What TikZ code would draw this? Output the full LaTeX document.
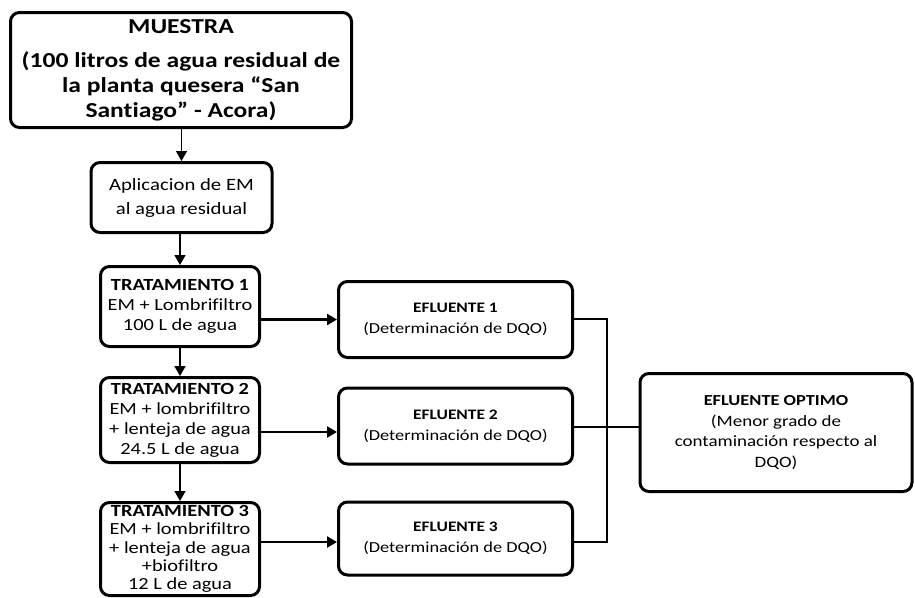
\documentclass[tikz,border=0pt]{standalone}
\usepackage{fontspec}
\setmainfont{Carlito}[Ligatures={NoCommon},FakeStretch=1.2]
\usetikzlibrary{arrows.meta}
\begin{document}
\begin{tikzpicture}[x=1pt,y=-1pt,
  box/.style={draw,line width=3pt,rounded corners=9pt,align=center,inner sep=0pt,fill=white},
  conn/.style={line width=2.4pt},
  arr/.style={line width=1.5pt,-{Triangle[length=10pt,width=11pt]}},
  harr/.style={line width=2.4pt,-{Triangle[length=10pt,width=11pt]}}]
\useasboundingbox (0,0) rectangle (915,597);
\node[box,minimum width=341pt,minimum height=115pt,font=\fontsize{21.3}{25}\selectfont\bfseries] (M) at (181,70)
  {MUESTRA\\[9pt](100 litros de agua residual de\\la planta quesera “San\\Santiago” - Acora)};
\node[box,minimum width=181pt,minimum height=70pt,font=\fontsize{17.3}{24}\selectfont] (A) at (181.5,197.5)
  {Aplicacion de EM\\al agua residual};
\node[box,minimum width=159pt,minimum height=80pt,font=\fontsize{17}{20}\selectfont] (T1) at (180,306.5)
  {\textbf{TRATAMIENTO 1}\\EM + Lombrifiltro\\100 L de agua};
\node[box,minimum width=159pt,minimum height=85pt,font=\fontsize{17}{20}\selectfont] (T2) at (180,420)
  {\textbf{TRATAMIENTO 2}\\EM + lombrifiltro\\+ lenteja de agua\\24.5 L de agua};
\node[box,minimum width=159pt,minimum height=93pt,font=\fontsize{17}{18.3}\selectfont] (T3) at (180,549)
  {\textbf{TRATAMIENTO 3}\\EM + lombrifiltro\\+ lenteja de agua\\+biofiltro\\12 L de agua};
\node[box,minimum width=234pt,minimum height=76pt,font=\fontsize{15.3}{21}\selectfont] (E1) at (455.5,319.5)
  {{\fontsize{14.5}{21}\selectfont\bfseries EFLUENTE 1}\\(Determinación de DQO)};
\node[box,minimum width=234pt,minimum height=76pt,font=\fontsize{15.3}{21}\selectfont] (E2) at (455.5,426)
  {{\fontsize{14.5}{21}\selectfont\bfseries EFLUENTE 2}\\(Determinación de DQO)};
\node[box,minimum width=234pt,minimum height=73pt,font=\fontsize{15.3}{21}\selectfont] (E3) at (455.5,538.5)
  {{\fontsize{14.5}{21}\selectfont\bfseries EFLUENTE 3}\\(Determinación de DQO)};
\node[box,minimum width=272pt,minimum height=118pt,font=\fontsize{15.8}{20.5}\selectfont] (O) at (776,432.5)
  {{\fontsize{15.3}{20.5}\selectfont\bfseries EFLUENTE OPTIMO}\\(Menor grado de\\contaminación respecto al\\DQO)};
\draw[arr] (M.south -| A.north) -- (A.north);
\draw[arr] (A.south -| T1.north) -- (T1.north);
\draw[arr] (T1.south) -- (T2.north);
\draw[arr] (T2.south) -- (T3.north);
\draw[harr] (T1.east |- E1.west) -- (E1.west);
\draw[harr] (T2.east |- 0,432) -- (E2.west |- 0,432);
\draw[harr] (T3.east |- 0,542) -- (E3.west |- 0,542);
\coordinate (bt) at (607,319);
\coordinate (bb) at (607,542);
\draw[conn] (E1.east |- bt) -- (bt) -- (bb) -- (E3.east |- bb);
\draw[conn] (E2.east |- 0,427) -- (O.west |- 0,427);
\end{tikzpicture}
\end{document}
